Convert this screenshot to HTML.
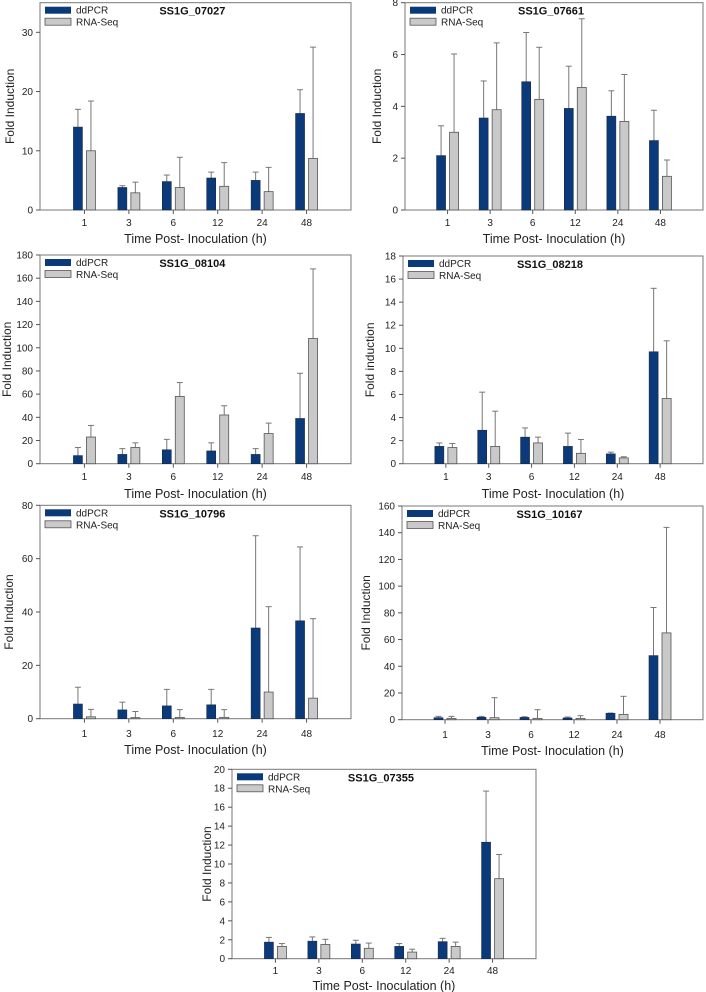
<!DOCTYPE html>
<html><head><meta charset="utf-8">
<style>
html,body{margin:0;padding:0;background:#fff;}
svg{display:block;font-family:"Liberation Sans",Arial,sans-serif;}
</style></head>
<body>
<svg id="chart" width="706" height="992" viewBox="0 0 706 992"></svg>
<script>
const categories = ["1","3","6","12","24","48"];

const p1Dd = [14, 3.8, 4.8, 5.4, 5.0, 16.3];
const p1DdErr = [17, 4.1, 5.9, 6.4, 6.4, 20.3];
const p1Rna = [10, 2.9, 3.8, 4.0, 3.1, 8.7];
const p1RnaErr = [18.4, 4.7, 8.9, 8.0, 7.2, 27.5];
const p1Ticks = [0, 10, 20, 30];

const p2Dd = [2.1, 3.55, 4.95, 3.92, 3.62, 2.68];
const p2DdErr = [3.25, 4.98, 6.85, 5.55, 4.6, 3.85];
const p2Rna = [3.0, 3.87, 4.27, 4.73, 3.42, 1.3];
const p2RnaErr = [6.02, 6.45, 6.28, 7.38, 5.23, 1.93];
const p2Ticks = [0, 2, 4, 6, 8];

const p3Dd = [7, 8, 12, 11, 8, 39];
const p3DdErr = [14, 13, 21, 18, 13, 78];
const p3Rna = [23, 14, 58, 42, 26, 108];
const p3RnaErr = [33, 18, 70, 50, 35, 168];
const p3Ticks = [0, 20, 40, 60, 80, 100, 120, 140, 160, 180];

const p4Dd = [1.5, 2.9, 2.3, 1.5, 0.85, 9.7];
const p4DdErr = [1.8, 6.2, 3.1, 2.65, 1.0, 15.2];
const p4Rna = [1.4, 1.5, 1.8, 0.9, 0.5, 5.65];
const p4RnaErr = [1.75, 4.55, 2.3, 2.1, 0.6, 10.65];
const p4Ticks = [0, 2, 4, 6, 8, 10, 12, 14, 16, 18];

const p5Dd = [5.5, 3.3, 4.8, 5.2, 34, 36.7];
const p5DdErr = [11.8, 6.2, 11, 11, 68.6, 64.4];
const p5Rna = [0.7, 0.4, 0.5, 0.5, 10, 7.7];
const p5RnaErr = [3.5, 2.7, 3.4, 3.4, 42, 37.5];
const p5Ticks = [0, 20, 40, 60, 80];

const p6Dd = [1.5, 1.8, 1.7, 1.3, 4.8, 48];
const p6DdErr = [2.5, 2.5, 2.2, 2, 5, 84];
const p6Rna = [1, 1.5, 1, 1, 4, 65];
const p6RnaErr = [2.5, 16.5, 7.5, 3, 17.5, 144];
const p6Ticks = [0, 20, 40, 60, 80, 100, 120, 140, 160];

const p7Dd = [1.75, 1.85, 1.55, 1.3, 1.8, 12.3];
const p7DdErr = [2.25, 2.3, 1.95, 1.6, 2.15, 17.7];
const p7Rna = [1.3, 1.5, 1.1, 0.7, 1.3, 8.45];
const p7RnaErr = [1.6, 2.05, 1.65, 1.0, 1.75, 11.0];
const p7Ticks = [0, 2, 4, 6, 8, 10, 12, 14, 16, 18, 20];

const NS = "http://www.w3.org/2000/svg";
const svg = document.getElementById("chart");
function mk(tag, attrs, parent, text) {
  const e = document.createElementNS(NS, tag);
  for (const k in attrs) e.setAttribute(k, attrs[k]);
  if (text !== undefined) e.textContent = text;
  parent.appendChild(e);
  return e;
}

function panel(cfg) {
  const g = mk("g", {}, svg);
  
  
  const L = cfg.left, R = cfg.right, T = cfg.top, B = cfg.bottom, ymax = cfg.ymax;
  const y = v => B - (v / ymax) * (B - T);
  const slot = (R - L) / 7;
  const xc = i => L + slot * (i + 1);
  const bw = 9, off = 6.5;

  const frame = mk("rect", {x: L, y: T, width: R - L, height: B - T, fill: "none", stroke: "#777", "stroke-width": 1}, g);
  
  

  cfg.ticks.forEach(t => {
    const tl = mk("line", {x1: L - 4, x2: L, y1: y(t), y2: y(t), stroke: "#555"}, g);
    
    
    const tx = mk("text", {x: L - 7, y: y(t) + 3.5, "text-anchor": "end", "font-size": 10, fill: "#222"}, g, String(t));
    
    
  });

  categories.forEach((c, i) => {
    const tl = mk("line", {x1: xc(i), x2: xc(i), y1: B, y2: B + 4, stroke: "#555"}, g);
    
    
    const tx = mk("text", {x: xc(i), y: cfg.xlabY, "text-anchor": "middle", "font-size": 10, fill: "#222"}, g, c);
    
    

    const ex1 = xc(i) - off, ex2 = xc(i) + off;
    const e1 = mk("line", {x1: ex1, x2: ex1, y1: y(cfg.dd[i]), y2: y(cfg.ddErr[i]), stroke: "#777"}, g);
    
    
    const c1 = mk("line", {x1: ex1 - 3, x2: ex1 + 3, y1: y(cfg.ddErr[i]), y2: y(cfg.ddErr[i]), stroke: "#777"}, g);
    
    
    const e2 = mk("line", {x1: ex2, x2: ex2, y1: y(cfg.rna[i]), y2: y(cfg.rnaErr[i]), stroke: "#777"}, g);
    
    
    const c2 = mk("line", {x1: ex2 - 3, x2: ex2 + 3, y1: y(cfg.rnaErr[i]), y2: y(cfg.rnaErr[i]), stroke: "#777"}, g);
    
    

    const b1 = mk("rect", {x: ex1 - bw / 2, y: y(cfg.dd[i]), width: bw, height: B - y(cfg.dd[i]), fill: "#0b3a7a", stroke: "#1a2a44", "stroke-width": 0.6}, g);
    
    
    const b2 = mk("rect", {x: ex2 - bw / 2, y: y(cfg.rna[i]), width: bw, height: B - y(cfg.rna[i]), fill: "#c9c9c9", stroke: "#555", "stroke-width": 0.8}, g);
    
    
  });

  const xt = mk("text", {x: (L + R) / 2, y: cfg.xtitleY, "text-anchor": "middle", "font-size": 12.5, fill: "#222"}, g, "Time Post- Inoculation (h)");
  
  
  const yt = mk("text", {x: 0, y: 0, "text-anchor": "middle", "font-size": 12, fill: "#222", transform: `translate(${cfg.ytitleX},${(T + B) / 2}) rotate(-90)`}, g, cfg.ytitle);
  
  
  const tt = mk("text", {x: L + (R - L) * 0.49, y: T + 12, "text-anchor": "middle", "font-size": 11, "font-weight": "bold", fill: "#111"}, g, cfg.title);
  
  

  const s1 = mk("rect", {x: L + 5, y: T + 4, width: 26, height: 7, fill: "#0b3a7a"}, g);
  
  
  const l1 = mk("text", {x: L + 36, y: T + 11, "font-size": 10, fill: "#222"}, g, "ddPCR");
  
  
  const s2 = mk("rect", {x: L + 5, y: T + 15.5, width: 26, height: 7, fill: "#c9c9c9", stroke: "#555", "stroke-width": 0.8}, g);
  
  
  const l2 = mk("text", {x: L + 36, y: T + 23, "font-size": 10, fill: "#222"}, g, "RNA-Seq");
  
  
}

panel({id: "ss1g-07027", title: "SS1G_07027", ytitle: "Fold Induction", left: 40, right: 351, top: 2.7, bottom: 210, ymax: 35, ticks: p1Ticks, dd: p1Dd, ddErr: p1DdErr, rna: p1Rna, rnaErr: p1RnaErr, xlabY: 226, xtitleY: 243, ytitleX: 14});
panel({id: "ss1g-07661", title: "SS1G_07661", ytitle: "Fold Induction", left: 405, right: 703, top: 2.7, bottom: 210, ymax: 8, ticks: p2Ticks, dd: p2Dd, ddErr: p2DdErr, rna: p2Rna, rnaErr: p2RnaErr, xlabY: 226, xtitleY: 243, ytitleX: 381});
panel({id: "ss1g-08104", title: "SS1G_08104", ytitle: "Fold Induction", left: 40, right: 351, top: 255, bottom: 463.7, ymax: 180, ticks: p3Ticks, dd: p3Dd, ddErr: p3DdErr, rna: p3Rna, rnaErr: p3RnaErr, xlabY: 480, xtitleY: 498, ytitleX: 11});
panel({id: "ss1g-08218", title: "SS1G_08218", ytitle: "Fold induction", left: 403, right: 703, top: 256, bottom: 463.7, ymax: 18, ticks: p4Ticks, dd: p4Dd, ddErr: p4DdErr, rna: p4Rna, rnaErr: p4RnaErr, xlabY: 480, xtitleY: 498, ytitleX: 374});
panel({id: "ss1g-10796", title: "SS1G_10796", ytitle: "Fold Induction", left: 40, right: 351, top: 505.3, bottom: 718.7, ymax: 80, ticks: p5Ticks, dd: p5Dd, ddErr: p5DdErr, rna: p5Rna, rnaErr: p5RnaErr, xlabY: 737, xtitleY: 754, ytitleX: 13});
panel({id: "ss1g-10167", title: "SS1G_10167", ytitle: "Fold Induction", left: 402, right: 703, top: 506, bottom: 719.7, ymax: 160, ticks: p6Ticks, dd: p6Dd, ddErr: p6DdErr, rna: p6Rna, rnaErr: p6RnaErr, xlabY: 738, xtitleY: 755, ytitleX: 370});
panel({id: "ss1g-07355", title: "SS1G_07355", ytitle: "Fold Induction", left: 232, right: 536, top: 769.3, bottom: 958.7, ymax: 20, ticks: p7Ticks, dd: p7Dd, ddErr: p7DdErr, rna: p7Rna, rnaErr: p7RnaErr, xlabY: 974, xtitleY: 990, ytitleX: 211});
</script>
</body></html>
